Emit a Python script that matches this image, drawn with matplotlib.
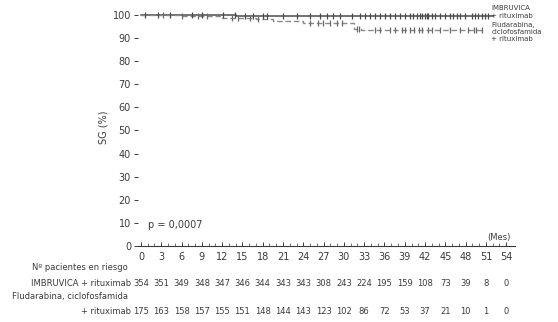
import matplotlib
matplotlib.use("Agg")
import matplotlib.pyplot as plt
import matplotlib.transforms as mtransforms
import numpy as np

plt.rcParams["font.family"] = ["Liberation Sans Narrow", "DejaVu Sans"]

# Curvas de Kaplan-Meier (tiempos de evento en meses, SG en %)
ibr_t = [0, 14, 30, 52]
ibr_s = [100, 99.7, 99.4, 99.4]
flu_t = [0, 6, 12, 17, 19.5, 24, 31.5, 32.5, 50.5]
flu_s = [100, 99.4, 98.8, 98.2, 97.2, 96.6, 93.9, 93.4, 93.4]

# Censuras (meses)
ibr_cens = [0.6, 2.5, 4.3, 7.5, 9.0, 12.1, 13.9, 15.4, 16.6, 18.0, 18.6, 21, 23,
            25, 26.5, 27.5, 28.4, 29.5, 31.2, 32.4, 33.1, 33.9, 34.6, 35.4,
            36.1, 36.8, 37.6, 38.3, 39.0, 39.8, 40.2, 40.8, 41.3, 41.6, 42.0,
            42.3, 42.5, 43.0, 43.5, 44.2, 45.0, 45.7, 46.1, 46.7, 47.1, 47.9,
            49.0, 49.4, 49.9, 50.4, 50.9, 51.3]
flu_cens = [3.3, 6.1, 8.4, 9.8, 13.5, 14.3, 16.1, 17.3, 25, 26.2, 26.9, 28,
            29, 29.7, 32.0, 32.3, 34.6, 35.4, 36.8, 37.6, 38.6, 39.0, 39.8,
            40.4, 41.1, 41.6, 42.4, 43.1, 44.2, 45.7, 47.2, 48.4, 49.2, 49.6,
            50.4]

# Tabla de pacientes en riesgo
meses = list(range(0, 55, 3))
riesgo_ibr = [354, 351, 349, 348, 347, 346, 344, 343, 343, 308, 243, 224,
              195, 159, 108, 73, 39, 8, 0]
riesgo_flu = [175, 163, 158, 157, 155, 151, 148, 144, 143, 123, 102, 86,
              72, 53, 37, 21, 10, 1, 0]

txt = "#3a3a3a"


def supervivencia(tiempos, valores, t):
    idx = np.searchsorted(tiempos, t, side="right") - 1
    return np.asarray(valores)[idx]


fig = plt.figure(figsize=(5.58, 3.22), dpi=100)
ax = fig.add_axes([0.2473, 0.236, 0.6756, 0.739])

ax.step(ibr_t, ibr_s, where="post", color="#4a4a4a", lw=1.1)
ax.step(flu_t, flu_s, where="post", color="#8a8a8a", lw=1.0,
        linestyle=(0, (4, 2)))
ax.plot(ibr_cens, supervivencia(ibr_t, ibr_s, ibr_cens), ls="none",
        marker="|", ms=4.5, mew=0.9, color="#4a4a4a")
ax.plot(flu_cens, supervivencia(flu_t, flu_s, flu_cens), ls="none",
        marker="|", ms=4.5, mew=0.9, color="#6a6a6a")

ax.set_xlim(-0.44, 55.3)
ax.set_ylim(0, 103)
ax.set_xticks(meses)
ax.set_xticks(range(0, 55), minor=True)
ax.set_yticks(range(0, 101, 10))
ax.tick_params(axis="x", which="major", direction="in", length=3,
               width=0.7, colors=txt, labelsize=7, pad=4)
ax.tick_params(axis="x", which="minor", direction="in", length=2,
               width=0.5, colors=txt)
ax.tick_params(axis="y", direction="out", length=3, width=0.7,
               colors=txt, labelsize=7, pad=2)
for s in ["top", "right", "left"]:
    ax.spines[s].set_visible(False)
ax.spines["bottom"].set_color(txt)
ax.spines["bottom"].set_linewidth(0.8)

ax.set_ylabel("SG (%)", fontsize=7, color=txt, labelpad=3)
ax.text(1.0, 8, "p = 0,0007", fontsize=7, color=txt)
ax.text(54.6, 2.5, "(Mes)", fontsize=6, color=txt, ha="right")

# etiquetas de las curvas
ax.text(51.8, 104.5, "IMBRUVICA\n+ rituximab", fontsize=5, color=txt,
        va="top", linespacing=1.4, clip_on=False)
ax.text(51.8, 97.0, "Fludarabina,\nciclofosfamida\n+ rituximab", fontsize=5,
        color=txt, va="top", linespacing=1.2, clip_on=False)

# tabla de riesgo
tr = mtransforms.blended_transform_factory(ax.transData, fig.transFigure)
fig.text(128 / 558, 1 - 268 / 322, "Nº pacientes en riesgo", fontsize=6,
         color=txt, ha="right", va="center")
fig.text(131 / 558, 1 - 283 / 322, "IMBRUVICA + rituximab", fontsize=6,
         color=txt, ha="right", va="center")
fig.text(128 / 558, 1 - 297 / 322, "Fludarabina, ciclofosfamida", fontsize=6,
         color=txt, ha="right", va="center")
fig.text(131 / 558, 1 - 311 / 322, "+ rituximab", fontsize=6,
         color=txt, ha="right", va="center")
for m, a, b in zip(meses, riesgo_ibr, riesgo_flu):
    ax.text(m, 1 - 283 / 322, str(a), transform=tr, fontsize=6, color=txt,
            ha="center", va="center")
    ax.text(m, 1 - 311 / 322, str(b), transform=tr, fontsize=6, color=txt,
            ha="center", va="center")

fig.savefig("out.png", dpi=100)
